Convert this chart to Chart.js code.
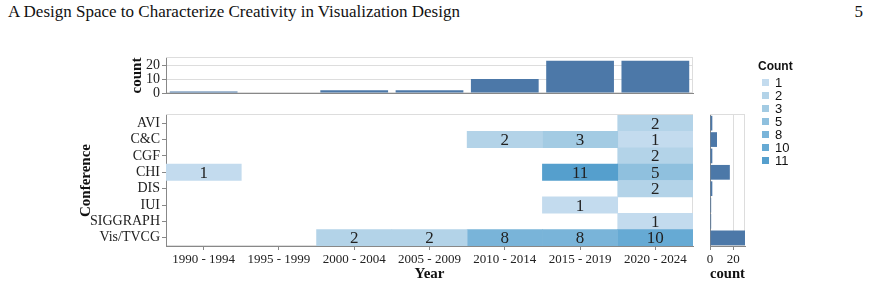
<!DOCTYPE html>
<html>
<head>
<meta charset="utf-8">
<script src="https://cdn.jsdelivr.net/npm/chart.js@4.4.1/dist/chart.umd.min.js"></script>
<style>
  body { margin: 0; background: #fff; width: 870px; height: 295px; overflow: hidden; position: relative; }
  canvas { position: absolute; }
  #header { position: absolute; left: 8px; top: 2px; width: 855px; font: 17px "Liberation Serif", serif; color: #111; }
  #header span { float: right; }
  #legend { position: absolute; left: 758px; top: 59px; font-family: "Liberation Sans", Arial, sans-serif; color: #111; }
  #legend .ttl { font-weight: bold; font-size: 12px; margin-bottom: 3px; }
  #legend .item { height: 13px; line-height: 13px; font-size: 13px; }
  #legend .sw { display: inline-block; width: 7px; height: 7px; margin: 0 6px 0 4px; vertical-align: 1px; }
</style>
</head>
<body>
<div id="header">A Design Space to Characterize Creativity in Visualization Design<span>5</span></div>
<canvas id="topChart" width="700" height="62" style="left:0;top:45px"></canvas>
<canvas id="heatChart" width="700" height="195" style="left:0;top:100px"></canvas>
<canvas id="sideChart" width="60" height="195" style="left:700px;top:100px"></canvas>
<div id="legend"></div>
<script>
const years = ["1990 - 1994", "1995 - 1999", "2000 - 2004", "2005 - 2009", "2010 - 2014", "2015 - 2019", "2020 - 2024"];
const conferences = ["AVI", "C&C", "CGF", "CHI", "DIS", "IUI", "SIGGRAPH", "Vis/TVCG"];
// one row per conference, one entry per year bin (null = no paper)
const cellCounts = [
    [null, null, null, null, null, null, 2],
    [null, null, null, null, 2, 3, 1],
    [null, null, null, null, null, null, 2],
    [1, null, null, null, null, 11, 5],
    [null, null, null, null, null, null, 2],
    [null, null, null, null, null, 1, null],
    [null, null, null, null, null, null, 1],
    [null, null, 2, 2, 8, 8, 10]
];
const yearTotals = [1, 0, 2, 2, 10, 23, 23];
const conferenceTotals = [2, 6, 2, 17, 2, 1, 1, 30];
const legendValues = [1, 2, 3, 5, 8, 10, 11];
const legendColors = ["#c3dbee", "#b3d3e8", "#a3cbe3", "#8fc0de", "#79b4d9", "#66aad4", "#559fcd"];

const barColor = "#4c78a8";
const serif = "'Liberation Serif', 'Times New Roman', serif";

function colorFor(v) {
    return legendColors[legendValues.indexOf(v)];
}

// light frame round each plot area, like the vega view stroke
const frame = {
    id: "frame",
    beforeDraw(chart) {
        const a = chart.chartArea, c = chart.ctx;
        c.save();
        c.strokeStyle = "#ddd";
        c.lineWidth = 1;
        c.strokeRect(a.left + 0.5, a.top - 0.5, a.right - a.left - 1, a.bottom - a.top);
        c.restore();
    }
};

const cellLabels = {
    id: "cellLabels",
    afterDatasetsDraw(chart) {
        const c = chart.ctx, xs = chart.scales.x, ys = chart.scales.y;
        c.save();
        c.font = "17px " + serif;
        c.fillStyle = "#222";
        c.textAlign = "center";
        c.textBaseline = "middle";
        cellCounts.forEach(function(row, j) {
            row.forEach(function(v, i) {
                if (v == null) return;
                c.fillText(String(v), xs.getPixelForValue(i + 0.5), ys.getPixelForValue(j) + 1);
            });
        });
        c.restore();
    }
};

const tickFont = { family: serif, size: 13 };
const catFont = { family: serif, size: 14 };
const titleFont = { family: serif, size: 15, weight: "bold" };

// top marginal: papers per year bin
new Chart(document.getElementById("topChart"), {
    type: "bar",
    data: {
        labels: years,
        datasets: [{ data: yearTotals, backgroundColor: barColor, categoryPercentage: 1, barPercentage: 0.9 }]
    },
    options: {
        responsive: false, animation: false,
        layout: { padding: { top: 13, right: 7, left: 0, bottom: 0 } },
        plugins: { legend: { display: false }, tooltip: { enabled: false } },
        scales: {
            x: {
                ticks: { display: false },
                grid: { display: false },
                border: { color: "#888" },
                afterFit(s) { s.height = 14; }
            },
            y: {
                min: 0, max: 25,
                afterBuildTicks(s) { s.ticks = [0, 10, 20].map(v => ({ value: v })); },
                ticks: { font: { family: serif, size: 14 }, color: "#222", padding: 2, autoSkip: false },
                grid: { color: "#ddd", tickColor: "#888", tickLength: 4 },
                border: { color: "#888" },
                title: { display: true, text: "count", font: titleFont, color: "#111", padding: { top: 128 } },
                afterFit(s) { s.width = 166; }
            }
        }
    },
    plugins: [frame]
});

// heatmap: one floating-bar dataset per year bin
const heatSets = years.map(function(y, i) {
    return {
        label: y,
        data: cellCounts.map(row => row[i] == null ? null : [i, i + 1]),
        backgroundColor: cellCounts.map(row => row[i] == null ? "rgba(0,0,0,0)" : colorFor(row[i])),
        borderWidth: 0,
        categoryPercentage: 1,
        barPercentage: 1,
        grouped: false
    };
});

new Chart(document.getElementById("heatChart"), {
    type: "bar",
    data: { labels: conferences, datasets: heatSets },
    options: {
        indexAxis: "y",
        responsive: false, animation: false,
        layout: { padding: { top: 15, right: 7, left: 0, bottom: 0 } },
        plugins: { legend: { display: false }, tooltip: { enabled: false } },
        scales: {
            x: {
                type: "linear", min: 0, max: 7,
                afterBuildTicks(s) { s.ticks = years.map((y, i) => ({ value: i + 0.5 })); },
                ticks: { font: tickFont, color: "#222", padding: 2, maxRotation: 0, autoSkip: false,
                         callback: (v, i) => years[i] },
                grid: { drawOnChartArea: false, color: "#888", tickLength: 4 },
                border: { color: "#888" },
                title: { display: true, text: "Year", font: titleFont, color: "#111", padding: { bottom: 12 } },
                afterFit(s) { s.height = 49; }
            },
            y: {
                ticks: { font: catFont, color: "#222", padding: 2, autoSkip: false },
                grid: { drawOnChartArea: false, color: "#888", tickLength: 4, offset: false },
                border: { color: "#888" },
                title: { display: true, text: "Conference", font: titleFont, color: "#111", padding: { top: 77 } },
                afterFit(s) { s.width = 166; }
            }
        }
    },
    plugins: [frame, cellLabels]
});

// right marginal: papers per conference
new Chart(document.getElementById("sideChart"), {
    type: "bar",
    data: {
        labels: conferences,
        datasets: [{ data: conferenceTotals, backgroundColor: barColor, categoryPercentage: 1, barPercentage: 0.9 }]
    },
    options: {
        indexAxis: "y",
        responsive: false, animation: false,
        layout: { padding: { top: 15, right: 15, left: 0, bottom: 0 } },
        plugins: { legend: { display: false }, tooltip: { enabled: false } },
        scales: {
            x: {
                min: 0, max: 30,
                afterBuildTicks(s) { s.ticks = [0, 20].map(v => ({ value: v })); },
                ticks: { font: tickFont, color: "#222", padding: 2, maxRotation: 0, autoSkip: false },
                grid: { color: "#ddd", tickColor: "#888", tickLength: 4 },
                border: { color: "#888" },
                title: { display: true, text: "count", font: titleFont, color: "#111", padding: { bottom: 12 } },
                afterFit(s) { s.height = 49; }
            },
            y: {
                ticks: { display: false },
                grid: { display: false },
                border: { color: "#888" },
                afterFit(s) { s.width = 10; }
            }
        }
    },
    plugins: [frame]
});

// colour legend
const legend = document.getElementById("legend");
legend.innerHTML = '<div class="ttl">Count</div>' + legendValues.map(function(v, i) {
    return '<div class="item"><span class="sw" style="background:' + legendColors[i] + '"></span>' + v + '</div>';
}).join("");
</script>
</body>
</html>
